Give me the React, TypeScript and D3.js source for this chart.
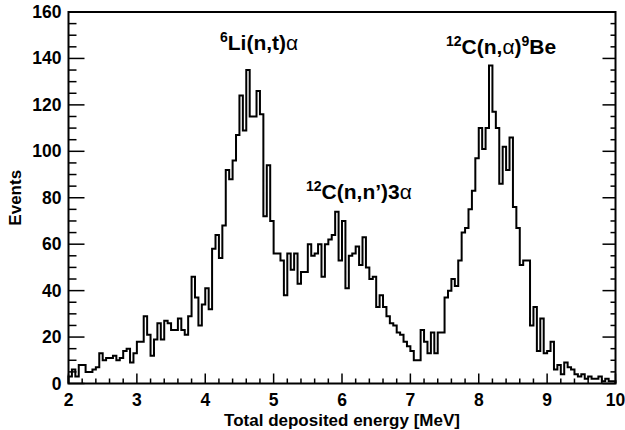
import * as d3 from "d3";

const WIDTH = 625;
const HEIGHT = 430;
const FRAME = { left: 68.5, right: 615.5, top: 12, bottom: 383.5 };

// histogram: 160 bins of 0.05 MeV from 2 to 10 MeV
const X_MIN = 2;
const X_MAX = 10;
const BIN_WIDTH = 0.05;

const events2to4 = [
  3, 6, 3, 8, 8, 5, 5, 6, 7, 13, 10, 11, 11, 12, 10, 11, 14, 15, 9, 13,
  18, 18, 29, 21, 12, 19, 26, 19, 27, 26, 23, 23, 28, 23, 21, 29, 46, 37, 25, 34,
];
const events4to6 = [
  41, 32, 58, 64, 54, 68, 92, 88, 96, 107, 124, 109, 135, 115, 115, 126, 116, 72, 94, 70,
  56, 56, 53, 38, 56, 49, 56, 43, 48, 48, 60, 55, 56, 60, 46, 60, 62, 64, 74, 53,
];
const events6to8 = [
  70, 41, 55, 56, 59, 51, 63, 50, 45, 46, 33, 38, 33, 29, 26, 25, 22, 21, 18, 16,
  14, 10, 10, 23, 18, 13, 22, 13, 22, 22, 37, 40, 45, 42, 53, 65, 67, 75, 83, 97,
];
const events8to10 = [
  110, 101, 110, 137, 117, 110, 86, 102, 92, 106, 76, 67, 51, 53, 53, 25, 33, 14, 28, 13,
  14, 18, 6, 8, 4, 9, 7, 6, 4, 3, 4, 2, 3, 2, 2, 3, 1, 2, 1, 1,
];
const events = [...events2to4, ...events4to6, ...events6to8, ...events8to10];

const xTicks = [2, 3, 4, 5, 6, 7, 8, 9, 10];
const yTicks = [0, 20, 40, 60, 80, 100, 120, 140, 160];

const FONT = "'Liberation Sans', Arial, Helvetica, sans-serif";

export default function App() {
  const xScale = d3.scaleLinear().domain([X_MIN, X_MAX]).range([FRAME.left, FRAME.right]);
  const yScale = d3.scaleLinear().domain([0, 160]).range([FRAME.bottom, FRAME.top]);

  const points: [number, number][] = [[X_MIN, 0]];
  events.forEach((v, i) => points.push([X_MIN + i * BIN_WIDTH, v]));
  points.push([X_MAX, events[events.length - 1]]);
  points.push([X_MAX, 0]);

  const histPath = d3
    .line<[number, number]>()
    .x((d) => xScale(d[0]))
    .y((d) => yScale(d[1]))
    .curve(d3.curveStepAfter)(points);

  const xMinor = d3.range(X_MIN, X_MAX + 0.001, 0.2);
  const yMinor = d3.range(0, 160.1, 5);

  return (
    <svg
      width={WIDTH}
      height={HEIGHT}
      style={{ position: "absolute", left: 0, top: 0, background: "#fff" }}
      fontFamily={FONT}
    >
      {/* x ticks */}
      {xMinor.map((v, i) => {
        const major = Math.abs(v - Math.round(v)) < 0.001;
        return (
          <line
            key={"xm" + i}
            x1={xScale(v)}
            x2={xScale(v)}
            y1={FRAME.bottom}
            y2={FRAME.bottom - (major ? 10 : 5)}
            stroke="#000"
            strokeWidth={1.5}
          />
        );
      })}
      {/* y ticks, left and right */}
      {yMinor.map((v, i) => {
        const major = v % 20 === 0;
        return (
          <g key={"ym" + i}>
            <line
              x1={FRAME.left}
              x2={FRAME.left + (major ? 16 : 8)}
              y1={yScale(v)}
              y2={yScale(v)}
              stroke="#000"
              strokeWidth={1.5}
            />
            <line
              x1={FRAME.right}
              x2={FRAME.right - (major ? 13 : 5)}
              y1={yScale(v)}
              y2={yScale(v)}
              stroke="#000"
              strokeWidth={1.5}
            />
          </g>
        );
      })}

      <path d={histPath || ""} fill="none" stroke="#000" strokeWidth={2} strokeLinejoin="miter" />

      <rect
        x={FRAME.left}
        y={FRAME.top}
        width={FRAME.right - FRAME.left}
        height={FRAME.bottom - FRAME.top}
        fill="none"
        stroke="#000"
        strokeWidth={2}
      />

      {xTicks.map((v) => (
        <text key={"xt" + v} x={xScale(v)} y={405.5} textAnchor="middle" fontSize={17.5} fontWeight="bold">
          {v}
        </text>
      ))}
      {yTicks.map((v) => (
        <text
          key={"yt" + v}
          x={61.5}
          y={yScale(v) + 6}
          textAnchor="end"
          fontSize={17.5}
          fontWeight="bold"
        >
          {v}
        </text>
      ))}

      <text x={(FRAME.left + FRAME.right) / 2} y={425.5} textAnchor="middle" fontSize={17} fontWeight="bold">
        Total deposited energy [MeV]
      </text>
      <text
        transform={`translate(21,${(FRAME.top + FRAME.bottom) / 2}) rotate(-90)`}
        textAnchor="middle"
        fontSize={17}
        fontWeight="bold"
      >
        Events
      </text>

      {/* reaction labels */}
      <text x={220} y={50} fontSize={21} fontWeight="bold">
        <tspan fontSize={14} dy={-8}>6</tspan>
        <tspan dy={8}>Li(n,t)</tspan>
        <tspan fontWeight="normal">α</tspan>
      </text>
      <text x={306} y={199} fontSize={21} fontWeight="bold">
        <tspan fontSize={14} dy={-8}>12</tspan>
        <tspan dy={8}>C(n,n’)3</tspan>
        <tspan fontWeight="normal">α</tspan>
      </text>
      <text x={446} y={54} fontSize={21} fontWeight="bold">
        <tspan fontSize={14} dy={-8}>12</tspan>
        <tspan dy={8}>C(n,</tspan>
        <tspan fontWeight="normal">α</tspan>
        <tspan>)</tspan>
        <tspan fontSize={14} dy={-8}>9</tspan>
        <tspan dy={8}>Be</tspan>
      </text>
    </svg>
  );
}
